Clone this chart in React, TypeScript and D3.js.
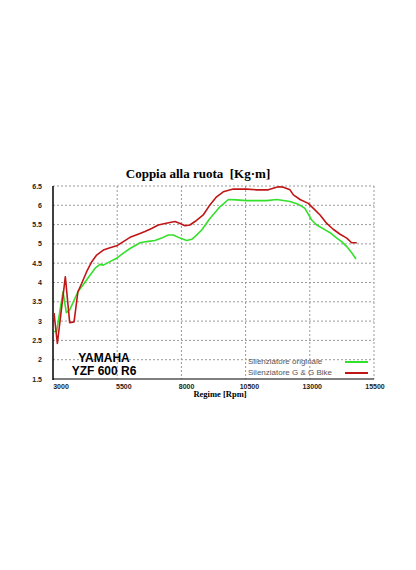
import * as d3 from "d3";

// Regime [Rpm] and coppia [Kg·m]
const rpmOriginale = [3040, 3140, 3390, 3520, 3650, 3970, 4180, 4440, 4640, 4830, 4960, 5220, 5480, 5740, 6000, 6390, 6650, 6970, 7230, 7490, 7680, 7950, 8210, 8400, 8530, 8790, 9110, 9500, 9830, 10150, 10540, 11320, 11710, 12230, 12550, 12810, 13070, 13270, 13530, 13790, 14050, 14240, 14440, 14630, 14800];
const coppiaOriginale = [2.73, 2.73, 3.76, 3.22, 3.29, 3.76, 3.95, 4.19, 4.37, 4.47, 4.45, 4.54, 4.63, 4.76, 4.88, 5.03, 5.06, 5.09, 5.15, 5.23, 5.23, 5.15, 5.09, 5.12, 5.19, 5.36, 5.66, 5.96, 6.15, 6.14, 6.12, 6.12, 6.15, 6.1, 6.03, 5.92, 5.62, 5.49, 5.39, 5.29, 5.15, 5.06, 4.93, 4.77, 4.61];

const rpmGG = [3040, 3170, 3480, 3650, 3820, 3970, 4120, 4310, 4510, 4700, 4960, 5220, 5480, 5740, 6000, 6390, 6580, 6840, 7100, 7360, 7750, 7950, 8140, 8330, 8530, 8850, 9110, 9370, 9630, 10020, 10540, 10930, 11380, 11770, 11970, 12230, 12360, 12620, 12940, 13140, 13400, 13660, 13910, 14180, 14440, 14630, 14830];
const coppiaGG = [3.21, 2.42, 4.15, 2.96, 2.98, 3.76, 3.98, 4.28, 4.54, 4.71, 4.84, 4.9, 4.95, 5.06, 5.17, 5.27, 5.32, 5.4, 5.49, 5.53, 5.58, 5.53, 5.47, 5.49, 5.58, 5.75, 6.01, 6.22, 6.35, 6.42, 6.42, 6.4, 6.4, 6.48, 6.47, 6.4, 6.27, 6.15, 6.05, 5.92, 5.75, 5.53, 5.38, 5.25, 5.15, 5.03, 5.03];

const xTicks = [3000, 5500, 8000, 10500, 13000, 15500];
const yTicks = [1.5, 2, 2.5, 3, 3.5, 4, 4.5, 5, 5.5, 6, 6.5];

const series = [
  { name: "Silenziatore originale", color: "#33e02a", rpm: rpmOriginale, val: coppiaOriginale },
  { name: "Silenziatore G & G Bike", color: "#c01616", rpm: rpmGG, val: coppiaGG },
];

export default function App() {
  const x = d3.scaleLinear().domain([3000, 15500]).range([53, 374]);
  const xLab = d3.scaleLinear().domain([3000, 15500]).range([61, 375]);
  const y = d3.scaleLinear().domain([1.5, 6.5]).range([379, 186]);

  const line = d3
    .line<[number, number]>()
    .x((d) => x(d[0]))
    .y((d) => y(d[1]));

  return (
    <svg width={416} height={570} style={{ position: "absolute", left: 0, top: 0, background: "#fff" }}>
      <text x={198} y={178} textAnchor="middle" fontFamily="Liberation Serif" fontWeight="bold" fontSize={13}>
        Coppia alla ruota{"\u00a0\u00a0"}[Kg·m]
      </text>

      {/* grid */}
      {yTicks.slice(1).map((t) => (
        <line key={"h" + t} x1={53} x2={374} y1={y(t)} y2={y(t)} stroke="#999" strokeDasharray="2,2" />
      ))}
      {xTicks.slice(1).map((t) => (
        <line key={"v" + t} x1={x(t)} x2={x(t)} y1={y(6.5)} y2={y(1.5)} stroke="#999" strokeDasharray="2,2" />
      ))}

      {/* axes */}
      <line x1={53} x2={53} y1={y(6.5)} y2={y(1.5) + 1} stroke="#000" strokeWidth={1.5} />
      <line x1={53} x2={374} y1={y(1.5)} y2={y(1.5)} stroke="#000" strokeWidth={1} />

      {yTicks.map((t) => (
        <text key={"yl" + t} x={42} y={y(t) + 2.5} textAnchor="end" fontFamily="Liberation Sans" fontWeight="bold" fontSize={7} fill="#222">
          {t}
        </text>
      ))}
      {xTicks.map((t) => (
        <text key={"xl" + t} x={xLab(t)} y={389} textAnchor="middle" fontFamily="Liberation Sans" fontWeight="bold" fontSize={7} fill="#222">
          {t}
        </text>
      ))}
      <text x={220} y={397} textAnchor="middle" fontFamily="Liberation Serif" fontWeight="bold" fontSize={8.5}>
        Regime [Rpm]
      </text>

      {series.map((s) => (
        <path
          key={s.name}
          d={line(s.rpm.map((r, i) => [r, s.val[i]] as [number, number])) || ""}
          fill="none"
          stroke={s.color}
          strokeWidth={1.6}
          strokeLinejoin="round"
        />
      ))}

      <text x={104} y={362} textAnchor="middle" fontFamily="Liberation Sans" fontWeight="bold" fontSize={12}>
        YAMAHA
      </text>
      <text x={104} y={375} textAnchor="middle" fontFamily="Liberation Sans" fontWeight="bold" fontSize={12}>
        YZF 600 R6
      </text>

      {series.map((s, i) => (
        <g key={"lg" + s.name}>
          <text x={248} y={364 + i * 11} fontFamily="Liberation Sans" fontSize={8} fill="#555">
            {s.name}
          </text>
          <line x1={345} x2={368} y1={362 + i * 11} y2={362 + i * 11} stroke={s.color} strokeWidth={2} />
        </g>
      ))}
    </svg>
  );
}
